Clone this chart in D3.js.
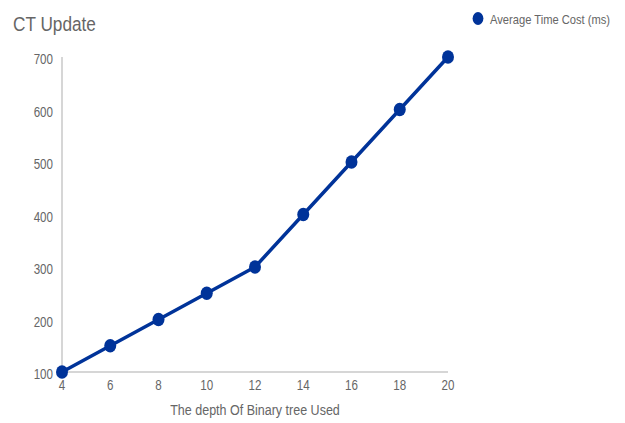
<!DOCTYPE html>
<html><head><meta charset="utf-8">
<script src="https://cdn.jsdelivr.net/npm/d3@7"></script>
<style>body{margin:0;background:#fff;} text{font-family:"Liberation Sans", Arial, sans-serif;}</style>
</head><body>
<svg id="c" width="625" height="423"></svg>
<script>
const depths = [4, 6, 8, 10, 12, 14, 16, 18, 20];
const avgTime = [100, 150, 200, 250, 300, 400, 500, 600, 700];
const yTicks = [100, 200, 300, 400, 500, 600, 700];
const xTicks = [4, 6, 8, 10, 12, 14, 16, 18, 20];
const seriesName = "Average Time Cost (ms)";
const title = "CT Update";
const xTitle = "The depth Of Binary tree Used";

const svg = d3.select("#c");
const x = d3.scaleLinear().domain([4, 20]).range([62, 448]);
const y = d3.scaleLinear().domain([100, 700]).range([372, 57]);
const grey = "#666";
const blue = "#003399";
const sx = 0.84; // horizontal squeeze of the text, as in the reference

function label(xp, yp, size, anchor, txt, col) {
  return svg.append("text")
    .attr("transform", `translate(${xp},${yp}) scale(${sx},1)`)
    .attr("font-size", size).attr("text-anchor", anchor)
    .attr("fill", col || grey).text(txt);
}

label(13, 31, 20.5, "start", title);

svg.append("line").attr("x1", x(4)).attr("x2", x(4)).attr("y1", y(700)).attr("y2", y(100)).attr("stroke", "#c8c8c8").attr("stroke-width", 1.5);
svg.append("line").attr("x1", x(4)).attr("x2", x(20)).attr("y1", y(100)).attr("y2", y(100)).attr("stroke", "#c8c8c8").attr("stroke-width", 1.5);

yTicks.forEach(d => label(53, y(d) + 7, 13.8, "end", d));
xTicks.forEach(d => label(x(d), 390, 13.8, "middle", d));

label(255, 415, 14.9, "middle", xTitle);

const data = depths.map((d, i) => ({d, v: avgTime[i]}));
svg.append("path").datum(data)
  .attr("d", d3.line().x(p => x(p.d)).y(p => y(p.v)))
  .attr("fill", "none").attr("stroke", blue).attr("stroke-width", 3.5).attr("stroke-linejoin", "round");
svg.selectAll(".pt").data(data).enter().append("ellipse")
  .attr("cx", p => x(p.d)).attr("cy", p => y(p.v)).attr("rx", 6).attr("ry", 6.7).attr("fill", blue);

svg.append("ellipse").attr("cx", 478).attr("cy", 18.5).attr("rx", 5.4).attr("ry", 6.4).attr("fill", blue);
label(490, 24, 13.3, "start", seriesName);
</script>
</body></html>
